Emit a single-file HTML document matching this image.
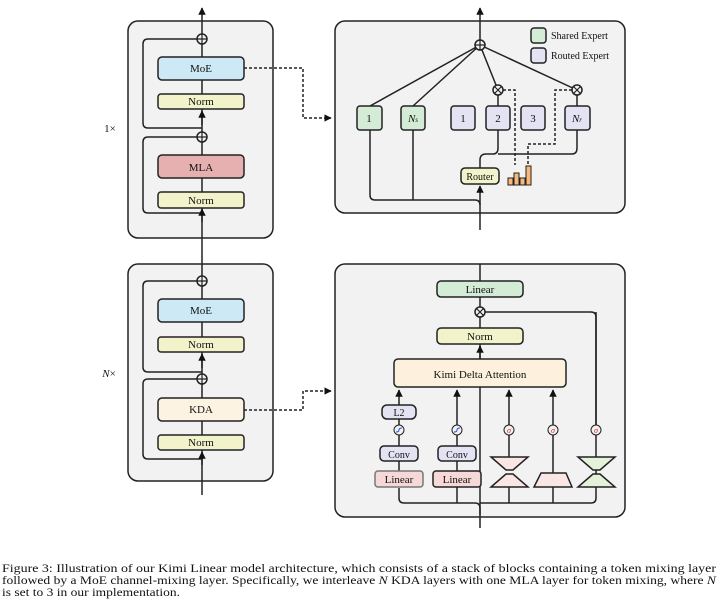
<!DOCTYPE html>
<html><head><meta charset="utf-8"><style>body{margin:0;background:#fff}svg{display:block}text{font-family:"Liberation Serif",serif;fill:#111}</style></head>
<body>
<svg width="720" height="608" viewBox="0 0 720 608" xmlns="http://www.w3.org/2000/svg">
<defs>
<marker id="a" viewBox="0 0 10 10" refX="9" refY="5" markerWidth="5" markerHeight="5" orient="auto"><path d="M0,0L10,5L0,10z" fill="#111"/></marker>
</defs>
<g stroke="#222" stroke-width="1.5" fill="none">
<rect x="128" y="21" width="145" height="217" rx="10" fill="#f2f2f2"/>
<rect x="128" y="264" width="145" height="217" rx="10" fill="#f2f2f2"/>
<rect x="335" y="21" width="290" height="192" rx="10" fill="#f2f2f2"/>
<rect x="335" y="264" width="290" height="253" rx="10" fill="#f2f2f2"/>
<line x1="202" y1="495" x2="202" y2="8" marker-end="url(#a)"/>
<path d="M202,128H148Q143,128 143,123V44Q143,39 148,39H197"/>
<path d="M202,213H148Q143,213 143,208V142Q143,137 148,137H197"/>
<path d="M202,372H148Q143,372 143,367V286Q143,281 148,281H197"/>
<path d="M202,459H148Q143,459 143,454V384Q143,379 148,379H197"/>
<line x1="202" y1="125" x2="202" y2="111" marker-end="url(#a)"/>
<line x1="202" y1="222" x2="202" y2="209" marker-end="url(#a)"/>
<line x1="202" y1="368" x2="202" y2="354" marker-end="url(#a)"/>
<line x1="202" y1="465" x2="202" y2="452" marker-end="url(#a)"/>
<rect x="158" y="57" width="86" height="23" rx="4" fill="#cde9f6"/>
<rect x="158" y="94" width="86" height="15" rx="3" fill="#f3f3cb"/>
<rect x="158" y="155" width="86" height="23" rx="4" fill="#e6b0b0"/>
<rect x="158" y="192" width="86" height="16" rx="3" fill="#f3f3cb"/>
<rect x="158" y="299" width="86" height="23" rx="4" fill="#cde9f6"/>
<rect x="158" y="337" width="86" height="15" rx="3" fill="#f3f3cb"/>
<rect x="158" y="398" width="86" height="23" rx="4" fill="#fcf3e3"/>
<rect x="158" y="435" width="86" height="15" rx="3" fill="#f3f3cb"/>
<g fill="#f2f2f2"><circle cx="202" cy="39" r="5"/><circle cx="202" cy="137" r="5"/><circle cx="202" cy="281" r="5"/><circle cx="202" cy="379" r="5"/></g>
<path d="M197,39H207M197,137H207M197,281H207M197,379H207M202,34V44M202,132V142M202,276V286M202,374V384" stroke-width="1.2"/>
<path d="M244,68H303V118H331" stroke-dasharray="3,2" marker-end="url(#a)"/>
<path d="M244,410H303V391H331" stroke-dasharray="3,2" marker-end="url(#a)"/>
<line x1="480" y1="230" x2="480" y2="186" marker-end="url(#a)"/>
<line x1="480" y1="40" x2="480" y2="8" marker-end="url(#a)"/>
<path d="M480,45L370,106M480,45L413,106M480,45L498,90M480,45L577,90"/>
<path d="M370,130V195Q370,200 375,200H475Q480,200 480,205M413,130V200"/>
<path d="M480,168V160Q480,154 486,154H493Q498,154 498,148V130M498,154H572Q577,154 577,148V130"/>
<path d="M498,95V106M577,95V106"/>
<path d="M503,90H515V165M572,90H555V144H528V166" stroke-dasharray="3,2"/>
<rect x="357" y="106" width="25" height="24" rx="3" fill="#d4ebd6"/>
<rect x="401" y="106" width="24" height="24" rx="3" fill="#d4ebd6"/>
<rect x="451" y="106" width="24" height="24" rx="3" fill="#e3e3f3"/>
<rect x="486" y="106" width="24" height="24" rx="3" fill="#e3e3f3"/>
<rect x="521" y="106" width="24" height="24" rx="3" fill="#e3e3f3"/>
<rect x="565" y="106" width="25" height="24" rx="3" fill="#e3e3f3"/>
<rect x="531" y="28" width="15" height="15" rx="3" fill="#d4ebd6"/>
<rect x="531" y="48" width="15" height="15" rx="3" fill="#e3e3f3"/>
<rect x="461" y="168" width="38" height="16" rx="4" fill="#f3f3cb"/>
<g fill="#f8b878" stroke-width="1"><rect x="508" y="178" width="5" height="7"/><rect x="514" y="173" width="5" height="12"/><rect x="520" y="178" width="5" height="7"/><rect x="526" y="166" width="5" height="19"/></g>
<circle cx="480" cy="45" r="5" fill="#f2f2f2"/><path d="M475,45H485M480,40V50" stroke-width="1.2"/>
<circle cx="498" cy="90" r="5" fill="#f2f2f2"/><circle cx="577" cy="90" r="5" fill="#f2f2f2"/>
<path d="M494.5,86.5l7,7M501.5,86.5l-7,7M573.5,86.5l7,7M580.5,86.5l-7,7" stroke-width="1.2"/>
<line x1="480" y1="528" x2="480" y2="264"/>
<path d="M480,515V508Q480,503 475,503H404Q399,503 399,498V488M480,503H591Q596,503 596,498V312M457,503V487M509,503V487M553,503V487"/>
<path d="M596,430V317Q596,312 591,312H485"/>
<line x1="399" y1="471" x2="399" y2="390" marker-end="url(#a)"/>
<line x1="457" y1="471" x2="457" y2="390" marker-end="url(#a)"/>
<line x1="509" y1="457" x2="509" y2="390" marker-end="url(#a)"/>
<line x1="553" y1="473" x2="553" y2="390" marker-end="url(#a)"/>
<line x1="480" y1="359" x2="480" y2="346" marker-end="url(#a)"/>
<rect x="437" y="281" width="86" height="16" rx="4" fill="#d4ebd6"/>
<rect x="437" y="328" width="86" height="16" rx="4" fill="#f3f3cb"/>
<rect x="394" y="359" width="172" height="28" rx="4" fill="#fdf0dc"/>
<rect x="382" y="405" width="34" height="14" rx="5" fill="#e3e3f3"/>
<rect x="380" y="446" width="38" height="15" rx="4" fill="#e3e3f3"/>
<rect x="375" y="471" width="48" height="16" rx="3" fill="#f6d8d6" stroke="#777"/>
<rect x="438" y="446" width="38" height="15" rx="4" fill="#e3e3f3"/>
<rect x="433" y="471" width="48" height="16" rx="3" fill="#f6d8d6"/>
<path d="M491,457H528L513,470H506Z M506,474H513L528,487H491Z" fill="#fbe6e6"/>
<path d="M541,473H566L572,487H534Z" fill="#fbe6e6"/>
<path d="M578,457H615L600,470H593Z M593,474H600L615,487H578Z" fill="#e3f2d9"/>
<circle cx="480" cy="312" r="5" fill="#f2f2f2"/><path d="M476.5,308.5l7,7M483.5,308.5l-7,7" stroke-width="1.2"/>
<g fill="#f2f2f2" stroke-width="1"><circle cx="399" cy="430" r="5"/><circle cx="457" cy="430" r="5"/><circle cx="509" cy="430" r="5"/><circle cx="553" cy="430" r="5"/><circle cx="596" cy="430" r="5"/></g>
<path d="M396,432Q399,432 399,430T402,428M454,432Q457,432 457,430T460,428" stroke="#2a4de0" stroke-width="1"/>
</g>
<g font-size="11" text-anchor="middle">
<text x="201" y="72">MoE</text><text x="201" y="105">Norm</text><text x="201" y="171">MLA</text><text x="201" y="204">Norm</text>
<text x="201" y="314">MoE</text><text x="201" y="348">Norm</text><text x="201" y="413">KDA</text><text x="201" y="446">Norm</text>
<text x="110" y="132">1×</text><text x="109" y="377"><tspan font-style="italic">N</tspan>×</text>
<text x="369" y="122">1</text><text x="413" y="122" font-style="italic">N<tspan font-size="7">s</tspan></text>
<text x="463" y="122">1</text><text x="498" y="122">2</text><text x="533" y="122">3</text><text x="577" y="122" font-style="italic">N<tspan font-size="7">r</tspan></text>
<text x="480" y="180" font-size="10">Router</text>
<text x="480" y="293">Linear</text><text x="480" y="340">Norm</text><text x="480" y="378">Kimi Delta Attention</text>
<text x="399" y="416" font-size="10">L2</text><text x="399" y="458" font-size="10">Conv</text><text x="457" y="458" font-size="10">Conv</text>
<text x="399" y="483">Linear</text><text x="457" y="483">Linear</text>
<g font-size="8" font-style="italic"><text x="509" y="433" style="fill:#d22">σ</text><text x="553" y="433" style="fill:#d22">σ</text><text x="596" y="433" style="fill:#d22">σ</text></g>
</g>
<g font-size="10"><text x="551" y="39">Shared Expert</text><text x="551" y="59">Routed Expert</text></g>
<g font-size="12">
<text x="2" y="572" textLength="714" lengthAdjust="spacingAndGlyphs">Figure 3: Illustration of our Kimi Linear model architecture, which consists of a stack of blocks containing a token mixing layer</text>
<text x="2" y="584" textLength="714" lengthAdjust="spacingAndGlyphs">followed by a MoE channel-mixing layer. Specifically, we interleave <tspan font-style="italic">N</tspan> KDA layers with one MLA layer for token mixing, where <tspan font-style="italic">N</tspan></text>
<text x="2" y="596" textLength="178" lengthAdjust="spacingAndGlyphs">is set to 3 in our implementation.</text>
</g>
</svg>
</body></html>
